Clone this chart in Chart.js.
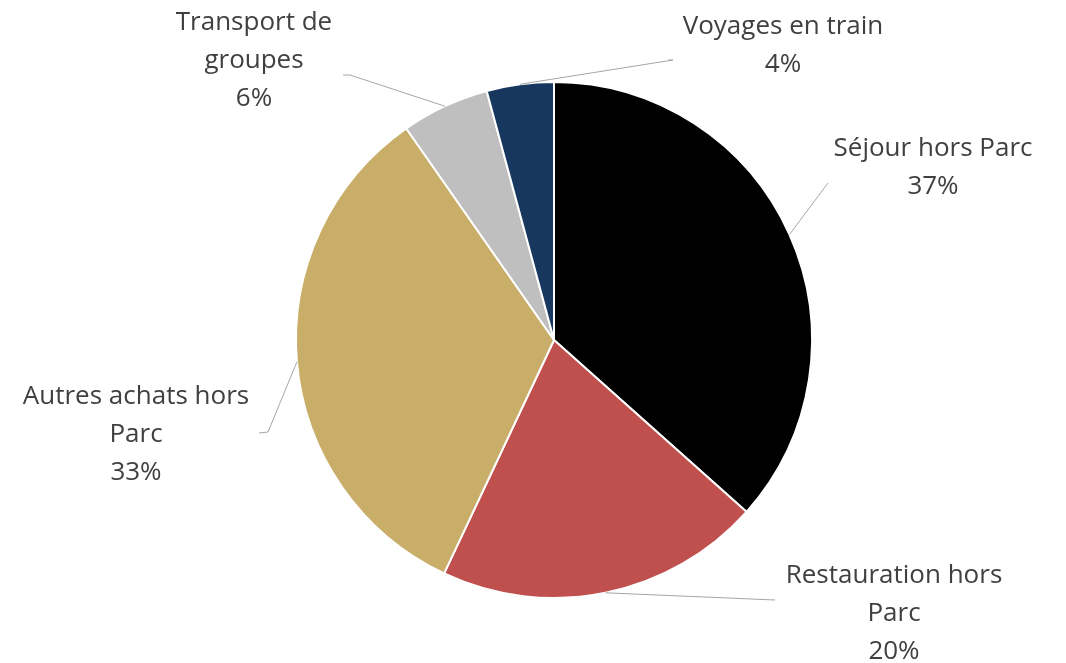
<!DOCTYPE html>
<html>
<head>
<meta charset="utf-8">
<script src="https://cdn.jsdelivr.net/npm/chart.js@4.4.1/dist/chart.umd.min.js"></script>
<style>
  html, body { margin: 0; padding: 0; background: #ffffff; }
  #wrap { width: 1066px; height: 663px; position: relative; }
</style>
</head>
<body>
<div id="wrap"><canvas id="pie"></canvas></div>
<script>
// chart data
const categories = [
    ['Séjour hors Parc'],
    ['Restauration hors', 'Parc'],
    ['Autres achats hors', 'Parc'],
    ['Transport de', 'groupes'],
    ['Voyages en train']
];
const shares = [36.6, 20.4, 33.3, 5.5, 4.2];
const sliceColors = ['#000000', '#C0504D', '#C9AE6A', '#BFBFBF', '#17375E'];

// where each label sits (first line centre) and how its leader line bends
const labelLayout = [
    { x: 933, y: 149, path: [[828, 183]] },
    { x: 894, y: 576, path: [[775, 600]] },
    { x: 136, y: 397, path: [[268, 432], [259, 433]] },
    { x: 254, y: 23, path: [[350, 75], [343, 75]] },
    { x: 783, y: 27, path: [[673, 60], [668, 60]] }
];

const lineHeight = 38;

const leaderLabels = {
    id: 'leaderLabels',
    afterDatasetsDraw(chart) {
        const ctx = chart.ctx;
        const meta = chart.getDatasetMeta(0);
        ctx.save();
        meta.data.forEach((arc, i) => {
            const mid = (arc.startAngle + arc.endAngle) / 2;
            const sx = arc.x + Math.cos(mid) * arc.outerRadius;
            const sy = arc.y + Math.sin(mid) * arc.outerRadius;
            const lay = labelLayout[i];
            ctx.strokeStyle = '#A6A6A6';
            ctx.lineWidth = 1;
            ctx.beginPath();
            ctx.moveTo(sx, sy);
            lay.path.forEach(p => ctx.lineTo(p[0], p[1]));
            ctx.stroke();

            const pct = Math.round(shares[i]) + '%';
            const lines = categories[i].concat([pct]);
            ctx.fillStyle = '#404040';
            ctx.font = '26px "Open Sans"';
            ctx.textAlign = 'center';
            ctx.textBaseline = 'middle';
            lines.forEach((t, k) => ctx.fillText(t, lay.x, lay.y + k * lineHeight));
        });
        ctx.restore();
    }
};

new Chart(document.getElementById('pie'), {
    type: 'pie',
    data: {
        labels: categories.map(c => c.join(' ')),
        datasets: [{
            data: shares,
            backgroundColor: sliceColors,
            borderColor: '#ffffff',
            borderWidth: 2
        }]
    },
    options: {
        responsive: true,
        maintainAspectRatio: false,
        animation: false,
        layout: { padding: { top: 81, bottom: 64, left: 295, right: 253 } },
        plugins: {
            legend: { display: false },
            tooltip: { enabled: false }
        }
    },
    plugins: [leaderLabels]
});
</script>
</body>
</html>
